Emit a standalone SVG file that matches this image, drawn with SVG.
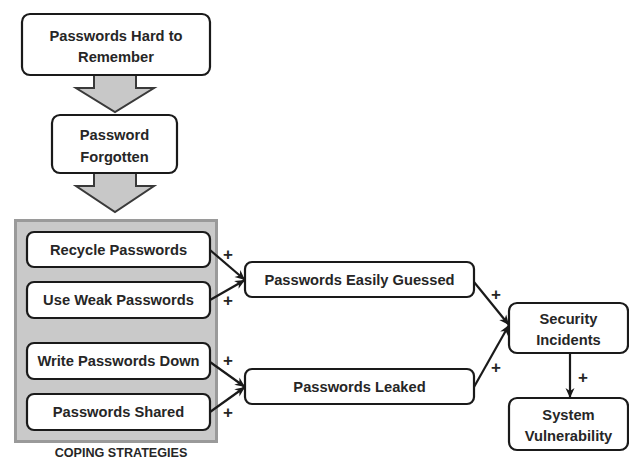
<svg xmlns="http://www.w3.org/2000/svg" width="629" height="460" viewBox="0 0 629 460">
<style>
.box{fill:#fff;stroke:#1a1a1a;stroke-width:2.2}
.t{font-family:"Liberation Sans",Arial,sans-serif;font-weight:bold;font-size:14.7px;fill:#262626;text-anchor:middle}
.p{font-family:"Liberation Sans",Arial,sans-serif;font-weight:bold;font-size:17px;fill:#262626;text-anchor:middle}
.blk{fill:#c8c8c8;stroke:#3a3a3a;stroke-width:2}
.c{stroke:#1a1a1a;stroke-width:2.2;fill:none;marker-end:url(#ah)}
</style>
<defs>
<marker id="ah" viewBox="0 0 10 10" refX="10" refY="5" markerWidth="10" markerHeight="10" markerUnits="userSpaceOnUse" orient="auto" overflow="visible">
<path d="M0,0.5 L10,5 L0,9.5 L3,5 Z" fill="#1a1a1a"/>
</marker>
</defs>
<rect width="629" height="460" fill="#fff"/>
<g id="panel">
<rect x="15.5" y="220.5" width="201" height="221" fill="#c9c9c9" stroke="#9a9a9a" stroke-width="3"/>
<text x="121" y="457" class="t" style="font-size:12.6px">COPING STRATEGIES</text>
</g>
<g id="blockarrows">
<path class="blk" d="M94,75 V88 H76 L115,112 L154,88 H136 V75 Z"/>
<path class="blk" d="M94,173 V186 H76 L115,212 L154,186 H136 V173 Z"/>
</g>
<g id="n1"><rect class="box" x="22" y="14" width="188" height="61" rx="8"/>
<text class="t" x="116" y="41">Passwords Hard to</text><text class="t" x="116" y="62">Remember</text></g>
<g id="n2"><rect class="box" x="52" y="115" width="125" height="58" rx="8"/>
<text class="t" x="114.5" y="140">Password</text><text class="t" x="114.5" y="162">Forgotten</text></g>
<g id="n3"><rect class="box" x="27" y="232" width="183" height="35" rx="7"/>
<text class="t" x="118.5" y="255">Recycle Passwords</text></g>
<g id="n4"><rect class="box" x="27" y="282" width="183" height="36" rx="7"/>
<text class="t" x="118.5" y="305">Use Weak Passwords</text></g>
<g id="n5"><rect class="box" x="27" y="343" width="183" height="36" rx="7"/>
<text class="t" x="118.5" y="366">Write Passwords Down</text></g>
<g id="n6"><rect class="box" x="27" y="394" width="183" height="36" rx="7"/>
<text class="t" x="118.5" y="417">Passwords Shared</text></g>
<g id="n7"><rect class="box" x="245" y="262" width="229" height="35" rx="7"/>
<text class="t" x="359.5" y="285">Passwords Easily Guessed</text></g>
<g id="n8"><rect class="box" x="245" y="369" width="229" height="35" rx="7"/>
<text class="t" x="359.5" y="392">Passwords Leaked</text></g>
<g id="n9"><rect class="box" x="509" y="303" width="119" height="50" rx="8"/>
<text class="t" x="568.5" y="324">Security</text><text class="t" x="568.5" y="345">Incidents</text></g>
<g id="n10"><rect class="box" x="509" y="398" width="119" height="52" rx="8"/>
<text class="t" x="568.5" y="420">System</text><text class="t" x="568.5" y="441">Vulnerability</text></g>
<g id="connectors">
<path class="c" d="M210,250 L245,280"/>
<path class="c" d="M210,300 L245,280"/>
<path class="c" d="M210,362 L245,387"/>
<path class="c" d="M210,412 L245,387"/>
<path class="c" d="M474,282 L509,325"/>
<path class="c" d="M474,387 L509,325"/>
<path class="c" d="M570,353 L570,398"/>
<text class="p" x="228" y="260">+</text>
<text class="p" x="228" y="306">+</text>
<text class="p" x="228" y="366">+</text>
<text class="p" x="228" y="418">+</text>
<text class="p" x="496" y="300">+</text>
<text class="p" x="496" y="373">+</text>
<text class="p" x="583" y="383">+</text>
</g>
</svg>
